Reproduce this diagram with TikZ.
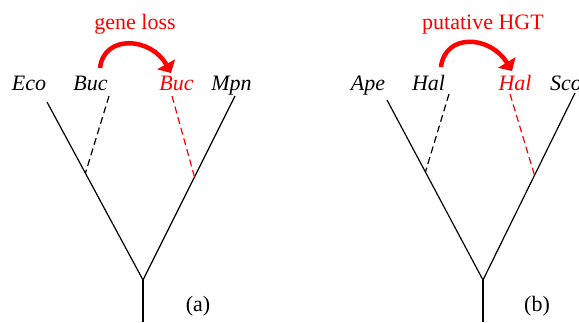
\documentclass[tikz,border=0pt]{standalone}
\usepackage{fontspec}
\setmainfont{Liberation Serif}
\usepackage{xcolor}
\usetikzlibrary{arrows.meta,calc}
\tikzset{
  taxon/.style ={inner sep=1pt, anchor=base, font=\fontsize{22}{26}\selectfont\itshape},
  moved/.style ={taxon, text=red},
  event/.style ={inner sep=1pt, anchor=base, text=red, font=\fontsize{22}{26}\selectfont},
  panel/.style ={inner sep=1pt, anchor=base, font=\fontsize{22}{26}\selectfont},
  branch/.style={line width=1.2pt, draw=black},
  ghost/.style ={line width=1.2pt, dash pattern=on 7pt off 4pt},
  jump/.style  ={draw=red, line width=4.5pt, -{Triangle[length=10pt,width=20pt]}},
}

\begin{document}
\begin{tikzpicture}[x=1pt, y=1pt]
\useasboundingbox (0,0) rectangle (579,322);

% (a) gene loss
\coordinate (rootA) at (143,42);
\coordinate (baseA) at (143,0);
\coordinate (ecoT) at (47,220);
\coordinate (mpnT) at (235,226);
\coordinate (bucT) at (109,226);
\coordinate (bucF) at ($(rootA)!0.6!(ecoT)$);
\coordinate (bucRT) at (172,226);
\coordinate (bucRF) at ($(rootA)!0.56!(mpnT)$);

\node[taxon] (eco) at (29,231) {Eco};
\node[taxon] (buc) at (90.5,231) {Buc};
\node[moved] (bucR) at (176.5,231) {Buc};
\node[taxon] (mpn) at (231.5,231) {Mpn};
\node[event] (loss) at (135,292) {gene loss};
\node[panel] (labA) at (198,11) {(a)};

\draw[branch] (baseA)--(rootA);
\draw[branch] (ecoT)--(rootA)--(mpnT);
\draw[ghost] (bucT)--(bucF);
\draw[ghost, red] (bucRT)--(bucRF);
\draw[jump] ([shift={(9.5,23)}]buc.base) .. controls +(4,34) and +(-20,36) .. ([shift={(-5.5,18)}]bucR.base);

% (b) putative HGT
\coordinate (rootB) at (483,42);
\coordinate (baseB) at (483,0);
\coordinate (apeT) at (387,222);
\coordinate (scoT) at (575,229);
\coordinate (halT) at (449,228);
\coordinate (halF) at ($(rootB)!0.6!(apeT)$);
\coordinate (halRT) at (510,228);
\coordinate (halRF) at ($(rootB)!0.56!(scoT)$);

\node[taxon] (ape) at (368,231) {Ape};
\node[taxon] (hal) at (428.5,231) {Hal};
\node[moved] (halR) at (515,231) {Hal};
\node[taxon, anchor=base west] (sco) at (549,231) {Sco};
\node[event] (hgt) at (483,292) {putative HGT};
\node[panel] (labB) at (537,11) {(b)};

\draw[branch] (baseB)--(rootB);
\draw[branch] (apeT)--(rootB)--(scoT);
\draw[ghost] (halT)--(halF);
\draw[ghost, red] (halRT)--(halRF);
\draw[jump] ([shift={(12.5,24)}]hal.base) .. controls +(4,34) and +(-22,36) .. ([shift={(-3,20)}]halR.base);
\end{tikzpicture}
\end{document}
